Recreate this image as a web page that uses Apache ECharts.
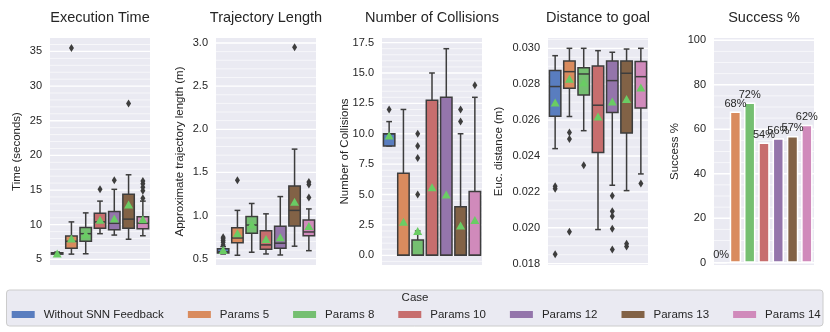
<!DOCTYPE html>
<html>
<head>
<meta charset="utf-8">
<script src="https://cdn.jsdelivr.net/npm/echarts@6/dist/echarts.min.js"></script>
<style>
html, body { margin: 0; padding: 0; background: #fff; }
#chart { width: 830px; height: 332px; }
</style>
</head>
<body>
<div id="chart"></div>
<script>
var FONT = 'Liberation Sans, Arial, Helvetica, sans-serif';
var INK = '#262626';
var EDGE = '#3d3d3d';
var MEAN_GREEN = '#6ACC64';

var cases = ['Without SNN Feedback', 'Params 5', 'Params 8', 'Params 10', 'Params 12', 'Params 13', 'Params 14'];
var caseColors = ['#597DBF', '#D98B5E', '#75BF71', '#C76E6E', '#9475AB', '#826246', '#D08ABB'];

// [min whisker, q1, median, q3, max whisker]
var execBoxes = [
    [5.6, 5.75, 5.85, 5.95, 6.05],
    [5.75, 6.6, 7.6, 8.35, 10.4],
    [5.8, 7.6, 8.7, 9.6, 11.7],
    [8.7, 9.5, 10.4, 11.65, 13.4],
    [8.5, 9.25, 10.2, 11.9, 15.1],
    [7.9, 9.5, 10.8, 14.4, 17.2],
    [8.4, 9.4, 10.2, 11.15, 13.4]
];
var execMeans = [5.85, 8.0, 8.6, 10.7, 10.9, 12.9, 10.8];
var execOutliers = [[], [35.5], [], [15.1], [16.4], [27.5], [13.8, 14.9, 15.4, 15.9, 16.3]];
var execTicks = [5, 10, 15, 20, 25, 30, 35];

var trajBoxes = [
    [0.555, 0.565, 0.58, 0.615, 0.64],
    [0.54, 0.685, 0.74, 0.86, 1.06],
    [0.575, 0.795, 0.89, 0.99, 1.14],
    [0.555, 0.61, 0.66, 0.825, 1.02],
    [0.543, 0.62, 0.68, 0.875, 1.22],
    [0.645, 0.88, 1.06, 1.343, 1.77],
    [0.593, 0.765, 0.81, 0.949, 1.077]
];
var trajMeans = [0.6, 0.795, 0.9, 0.728, 0.748, 1.16, 0.88];
var trajOutliers = [[0.66, 0.69, 0.71, 0.73, 0.75], [1.41], [], [], [], [2.95], [1.21, 1.36, 1.39]];
var trajTicks = [0.5, 1.0, 1.5, 2.0, 2.5, 3.0];

var collBoxes = [
    [9, 9, 10, 10, 11],
    [0, 0, 0, 6.75, 12],
    [0, 0, 0, 1.25, 2],
    [0, 0, 0, 12.75, 15],
    [0, 0, 0, 13, 17],
    [0, 0, 0, 4, 10],
    [0, 0, 0, 5.25, 13]
];
var collMeans = [9.85, 2.75, 2.0, 5.6, 5.0, 2.45, 2.9];
var collOutliers = [[12], [], [5, 8, 9, 10], [], [], [11, 12], [14]];
var collTicks = [0, 2.5, 5, 7.5, 10, 12.5, 15, 17.5];

var distBoxes = [
    [0.02441, 0.02622, 0.02787, 0.02876, 0.02959],
    [0.0262, 0.02778, 0.0287, 0.02929, 0.0300],
    [0.02541, 0.0274, 0.02857, 0.02892, 0.0300],
    [0.0199, 0.0242, 0.02683, 0.02902, 0.02987],
    [0.02237, 0.02642, 0.0282, 0.02929, 0.02978],
    [0.02207, 0.02528, 0.02861, 0.02929, 0.02996],
    [0.0230, 0.02667, 0.02842, 0.02926, 0.0300]
];
var distMeans = [0.02698, 0.02831, 0.02809, 0.0262, 0.02703, 0.02718, 0.02781];
var distOutliers = [
    [0.02232, 0.02218, 0.01852],
    [0.02531, 0.02494, 0.01978],
    [0.02348],
    [],
    [0.02179, 0.02092, 0.02064, 0.01994, 0.01879],
    [0.01911, 0.01895],
    [0.02246]
];
var distTicks = [0.018, 0.020, 0.022, 0.024, 0.026, 0.028, 0.030];

var successPct = [0, 68, 72, 54, 56, 57, 62];
var successTicks = [0, 20, 40, 60, 80, 100];

var panels = [
    { title: 'Execution Time', yName: 'Time (seconds)', min: 4.18, max: 36.94, ticks: execTicks, div: 5, dec: 0, nameGap: 27,
      boxes: execBoxes, means: execMeans, outliers: execOutliers },
    { title: 'Trajectory Length', yName: 'Approximate trajectory length (m)', min: 0.427, max: 3.058, ticks: trajTicks, div: 5, dec: 1, nameGap: 30,
      boxes: trajBoxes, means: trajMeans, outliers: trajOutliers },
    { title: 'Number of Collisions', yName: 'Number of Collisions', min: -0.8, max: 17.88, ticks: collTicks, div: 5, dec: 1, nameGap: 31,
      boxes: collBoxes, means: collMeans, outliers: collOutliers },
    { title: 'Distance to goal', yName: 'Euc. distance (m)', min: 0.017925, max: 0.030575, ticks: distTicks, div: 4, dec: 3, nameGap: 43,
      boxes: distBoxes, means: distMeans, outliers: distOutliers },
    { title: 'Success %', yName: 'Success %', min: -1, max: 101, ticks: successTicks, div: 4, dec: 0, nameGap: 33,
      bars: successPct }
];

var PLOT_LEFT = 50, PLOT_STEP = 166, PLOT_W = 100, PLOT_TOP = 38, PLOT_H = 227;

function gridLines(p) {
    var lines = [];
    var t0 = p.ticks[0];
    var step = p.ticks[1] - p.ticks[0];
    var ms = step / p.div;
    var k0 = Math.ceil((p.min - t0) / ms - 1e-9);
    var k1 = Math.floor((p.max - t0) / ms + 1e-9);
    for (var k = k0; k <= k1; k++) {
        var v = +(t0 + k * ms).toFixed(8);
        var major = (k % p.div === 0);
        lines.push({ v: v, major: major, label: major ? v.toFixed(p.dec) : '' });
    }
    return lines;
}

function makeGridRender(lines) {
    return function (params, api) {
        var ln = lines[params.dataIndex];
        var cs = params.coordSys;
        var y = api.coord([0, ln.v])[1];
        var kids = [{
            type: 'line', silent: true,
            shape: { x1: cs.x, y1: y, x2: cs.x + cs.width, y2: y },
            style: { stroke: '#ffffff', lineWidth: ln.major ? 1.3 : 0.6 }
        }];
        if (ln.major) {
            kids.push({
                type: 'text', silent: true, x: cs.x - 8, y: y,
                style: { text: ln.label, align: 'right', verticalAlign: 'middle', fill: INK, fontSize: 11, fontFamily: FONT }
            });
        }
        return { type: 'group', children: kids };
    };
}

function boxRender(params, api) {
    var i = api.value(0);
    function c(k) { return api.coord([i, api.value(k)]); }
    var pMin = c(1), pQ1 = c(2), pMed = c(3), pQ3 = c(4), pMax = c(5);
    var x = pMin[0];
    var bw = api.size([1, 0])[0] * 0.8;
    var cw = bw * 0.5;
    function seg(x1, y1, x2, y2) {
        return { type: 'line', shape: { x1: x1, y1: y1, x2: x2, y2: y2 }, style: { stroke: EDGE, lineWidth: 1.5 } };
    }
    return {
        type: 'group',
        children: [
            seg(x, pQ3[1], x, pMax[1]),
            seg(x, pQ1[1], x, pMin[1]),
            seg(x - cw / 2, pMax[1], x + cw / 2, pMax[1]),
            seg(x - cw / 2, pMin[1], x + cw / 2, pMin[1]),
            {
                type: 'rect',
                shape: { x: x - bw / 2, y: pQ3[1], width: bw, height: Math.max(pQ1[1] - pQ3[1], 0.5) },
                style: { fill: caseColors[params.dataIndex], stroke: EDGE, lineWidth: 1.5 }
            },
            seg(x - bw / 2, pMed[1], x + bw / 2, pMed[1])
        ]
    };
}

var option = {
    animation: false,
    textStyle: { fontFamily: FONT, color: INK },
    title: [],
    grid: [],
    xAxis: [],
    yAxis: [],
    series: [],
    legend: {
        left: 11.7, top: 308.5, padding: 0,
        icon: 'rect', itemWidth: 23, itemHeight: 7, itemGap: 24,
        selectedMode: false,
        itemStyle: { opacity: 1 },
        textStyle: { fontSize: 11.5, color: INK, fontFamily: FONT, padding: [0, 0, 0, 4] },
        data: cases
    },
    graphic: [{
        type: 'rect', z: 0, silent: true,
        shape: { x: 6.5, y: 290, width: 816.5, height: 36, r: 3 },
        style: { fill: '#EAEAF2', stroke: '#CCCCCC', lineWidth: 1 }
    }]
};

option.title.push({
    text: 'Case', left: 415, top: 292, padding: 0, textAlign: 'center',
    textStyle: { fontSize: 11.5, fontWeight: 'normal', color: INK, fontFamily: FONT }
});

panels.forEach(function (p, gi) {
    var left = PLOT_LEFT + PLOT_STEP * gi;
    option.title.push({
        text: p.title, left: left + PLOT_W / 2, top: 10, padding: 0, textAlign: 'center',
        textStyle: { fontSize: 14.5, fontWeight: 'normal', color: INK, fontFamily: FONT }
    });
    option.grid.push({
        left: left, top: PLOT_TOP, width: PLOT_W, height: PLOT_H,
        show: true, backgroundColor: '#EAEAF2', borderWidth: 0
    });
    option.xAxis.push({
        type: 'category', gridIndex: gi, data: cases, boundaryGap: true,
        axisLine: { show: false }, axisTick: { show: false }, axisLabel: { show: false }, splitLine: { show: false }
    });
    option.yAxis.push({
        type: 'value', gridIndex: gi, min: p.min, max: p.max,
        name: p.yName, nameLocation: 'middle', nameGap: p.nameGap, nameRotate: 90,
        nameTextStyle: { fontSize: 11.5, color: INK, fontFamily: FONT },
        axisLine: { show: false }, axisTick: { show: false }, axisLabel: { show: false },
        splitLine: { show: false }, minorSplitLine: { show: false }
    });

    var lines = gridLines(p);
    option.series.push({
        type: 'custom', name: 'grid' + gi, xAxisIndex: gi, yAxisIndex: gi, z: 1, silent: true,
        encode: { x: 0, y: 1 },
        data: lines.map(function (ln) { return [0, ln.v]; }),
        renderItem: makeGridRender(lines)
    });

    if (p.boxes) {
        option.series.push({
            type: 'custom', name: 'box' + gi, xAxisIndex: gi, yAxisIndex: gi, z: 2,
            encode: { x: 0, y: [1, 2, 3, 4, 5] },
            data: p.boxes.map(function (b, i) { return [i].concat(b); }),
            renderItem: boxRender
        });
        var fl = [];
        p.outliers.forEach(function (arr, i) {
            arr.forEach(function (v) { fl.push([i, v]); });
        });
        option.series.push({
            type: 'scatter', name: 'outliers' + gi, xAxisIndex: gi, yAxisIndex: gi, z: 3,
            symbol: 'diamond', symbolSize: [5, 8],
            itemStyle: { color: EDGE, opacity: 1 },
            data: fl
        });
        option.series.push({
            type: 'scatter', name: 'mean' + gi, xAxisIndex: gi, yAxisIndex: gi, z: 4,
            symbol: 'triangle', symbolSize: [9, 8],
            itemStyle: { color: MEAN_GREEN, opacity: 1 },
            data: p.means.map(function (m, i) { return [i, m]; })
        });
    } else {
        option.series.push({
            type: 'bar', name: 'success', xAxisIndex: gi, yAxisIndex: gi, z: 2,
            barWidth: '80%',
            data: p.bars.map(function (v, i) {
                return { value: v, itemStyle: { color: caseColors[i], borderColor: '#ffffff', borderWidth: 1.5 } };
            }),
            label: {
                show: true, position: 'top', distance: 2, formatter: '{c}%',
                fontSize: 11, color: INK, fontFamily: FONT
            }
        });
    }
});

// legend-only series
cases.forEach(function (name, i) {
    option.series.push({
        type: 'scatter', name: name, xAxisIndex: 0, yAxisIndex: 0,
        itemStyle: { color: caseColors[i], opacity: 1 }, data: []
    });
});

var chart = echarts.init(document.getElementById('chart'), null, { renderer: 'canvas' });
chart.setOption(option);
</script>
</body>
</html>
